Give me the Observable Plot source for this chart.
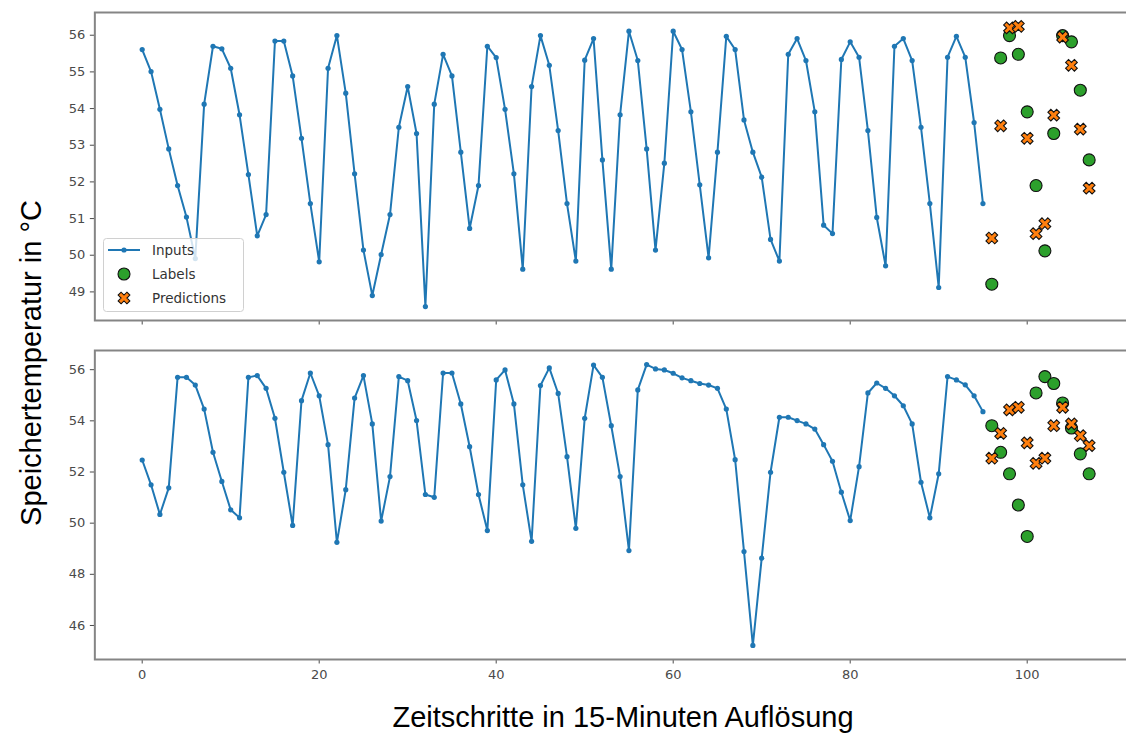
<!DOCTYPE html>
<html>
<head>
<meta charset="utf-8">
<script src="https://cdn.jsdelivr.net/npm/d3@7"></script>
<script src="https://cdn.jsdelivr.net/npm/@observablehq/plot@0.6"></script>
<style>
  body { margin: 0; background: #fff; }
  #fig { position: relative; width: 1126px; height: 733px; overflow: hidden; background: #fff; }
  #top, #bottom, #legend { position: absolute; left: 0; }
  #top { top: 0; width: 1140px; }
  #bottom { top: 340px; width: 1140px; }
  #top svg, #bottom svg { max-width: none !important; }
  #legend { top: 0; pointer-events: none; }
  .ylab { position: absolute; left: 31px; top: 363px; transform: translate(-50%, -50%) rotate(-90deg);
          font-family: "Liberation Sans", Arial, sans-serif; font-size: 29px; white-space: nowrap; color: #000; }
  .xlab { position: absolute; left: 623px; top: 717px; transform: translate(-50%, -50%);
          font-family: "Liberation Sans", Arial, sans-serif; font-size: 29px; white-space: nowrap; color: #000; }
</style>
</head>
<body>
<div id="fig">
  <div id="top"></div>
  <div id="bottom"></div>
  <svg id="legend" width="1126" height="340"></svg>
  <div class="ylab">Speichertemperatur in °C</div>
  <div class="xlab">Zeitschritte in 15-Minuten Auflösung</div>
</div>
<script>
// ---- data ----
const topInputs = [55.61, 55.01, 53.98, 52.90, 51.90, 51.04, 49.91, 54.12, 55.70, 55.63,
  55.10, 53.83, 52.20, 50.53, 51.11, 55.84, 55.84, 54.89, 53.19, 51.41,
  49.82, 55.10, 55.99, 54.42, 52.22, 50.14, 48.90, 50.02, 51.11, 53.49,
  54.60, 53.32, 48.60, 54.12, 55.48, 54.89, 52.81, 50.73, 51.90, 55.70,
  55.39, 53.98, 52.22, 49.62, 54.60, 55.99, 55.18, 53.40, 51.41, 49.84,
  55.32, 55.91, 52.60, 49.62, 53.83, 56.11, 55.31, 52.90, 50.14, 52.51,
  56.11, 55.61, 53.91, 51.92, 49.93, 52.81, 55.97, 55.61, 53.69, 52.81,
  52.13, 50.43, 49.84, 55.48, 55.91, 55.31, 53.91, 50.82, 50.59, 55.34,
  55.82, 55.40, 53.40, 51.03, 49.71, 55.70, 55.91, 55.31, 53.49, 51.41,
  49.12, 55.40, 55.97, 55.40, 53.62, 51.41];
const topLabels = [49.21, 55.38, 55.99, 55.48, 53.91, 51.90, 50.12, 53.32, 55.99, 55.82, 54.50, 52.60];
const topPredictions = [50.47, 53.53, 56.20, 56.24, 53.19, 50.59, 50.86, 53.82, 55.95, 55.18, 53.44, 51.83];

const bottomInputs = [52.47, 51.50, 50.34, 51.38, 55.70, 55.70, 55.40, 54.46, 52.77, 51.63,
  50.52, 50.21, 55.70, 55.77, 55.27, 54.10, 51.99, 49.91, 54.79, 55.87,
  54.98, 53.07, 49.25, 51.31, 54.89, 55.77, 53.88, 50.08, 51.82, 55.73,
  55.57, 54.01, 51.12, 51.01, 55.87, 55.87, 54.66, 52.99, 51.12, 49.71,
  55.60, 55.99, 54.66, 51.50, 49.29, 55.38, 56.07, 55.07, 52.60, 49.80,
  54.10, 56.18, 55.70, 53.81, 51.82, 48.93, 55.21, 56.20, 56.03, 55.99,
  55.86, 55.68, 55.57, 55.46, 55.40, 55.27, 54.46, 52.48, 48.89, 45.22,
  48.63, 51.99, 54.14, 54.14, 54.01, 53.88, 53.68, 53.07, 52.42, 51.21,
  50.10, 52.21, 55.09, 55.48, 55.27, 54.98, 54.59, 53.88, 51.60, 50.21,
  51.93, 55.73, 55.60, 55.41, 54.98, 54.36];
const bottomLabels = [53.81, 52.77, 51.93, 50.71, 49.48, 55.09, 55.73, 55.46, 54.70, 53.72, 52.71, 51.93];
const bottomPredictions = [52.54, 53.51, 54.43, 54.53, 53.14, 52.34, 52.54, 53.81, 54.53, 53.88, 53.42, 53.03];

const xTicks = [0, 20, 40, 60, 80, 100];
const topYTicks = [49, 50, 51, 52, 53, 54, 55, 56];
const bottomYTicks = [46, 48, 50, 52, 54, 56];
const legendEntries = ["Inputs", "Labels", "Predictions"];

// matplotlib-like filled "X" marker
const xFilled = {
  draw(ctx, size) {
    const a = Math.sqrt(size / Math.PI);
    const u = a / 3;
    const pts = [[-u,-3*u],[u,-3*u],[u,-u],[3*u,-u],[3*u,u],[u,u],[u,3*u],[-u,3*u],[-u,u],[-3*u,u],[-3*u,-u],[-u,-u]]
      .map(([x, y]) => [(x - y) / Math.SQRT2, (x + y) / Math.SQRT2]);
    ctx.moveTo(pts[0][0], pts[0][1]);
    for (let k = 1; k < pts.length; k++) ctx.lineTo(pts[k][0], pts[k][1]);
    ctx.closePath();
  }
};

function panel(inputs, labels, preds, yDomain, yTicks, height, mTop, mBottom, showX) {
  const inp = inputs.map((v, i) => ({t: i, v}));
  const lab = labels.map((v, i) => ({t: inputs.length + i, v}));
  const pre = preds.map((v, i) => ({t: inputs.length + i, v}));
  return Plot.plot({
    width: 1140, height,
    marginLeft: 94.35, marginRight: 4, marginTop: mTop, marginBottom: mBottom,
    style: {fontFamily: "DejaVu Sans, sans-serif", fontSize: "13px", color: "#4a4a4a", background: "transparent", maxWidth: "none"},
    x: {domain: [-5.35, 112.35], ticks: xTicks, tickSize: 4.5, tickPadding: 6, label: null,
        tickFormat: showX ? (d => String(d)) : (() => "")},
    y: {domain: yDomain, ticks: yTicks, tickSize: 4.5, tickPadding: 5, label: null},
    marks: [
      Plot.line(inp, {x: "t", y: "v", stroke: "#1f77b4", strokeWidth: 2}),
      Plot.dot(inp, {x: "t", y: "v", r: 2.6, fill: "#1f77b4"}),
      Plot.dot(lab, {x: "t", y: "v", r: 6, fill: "#2ca02c", stroke: "#111", strokeWidth: 1.1}),
      Plot.dot(pre, {x: "t", y: "v", r: 6.2, symbol: xFilled, fill: "#ff7f0e", stroke: "#111", strokeWidth: 1.1}),
      Plot.frame({stroke: "#858585", strokeWidth: 2})
    ]
  });
}

document.getElementById("top").appendChild(
  panel(topInputs, topLabels, topPredictions, [48.22, 56.62], topYTicks, 340, 12, 20, false));
document.getElementById("bottom").appendChild(
  panel(bottomInputs, bottomLabels, bottomPredictions, [44.67, 56.75], bottomYTicks, 360, 10, 41, true));

// legend (inside the top panel, lower left)
const lg = d3.select("#legend");
lg.append("rect").attr("x", 103.5).attr("y", 238.5).attr("width", 140).attr("height", 73).attr("rx", 3)
  .attr("fill", "rgba(255,255,255,0.8)").attr("stroke", "#d0d0d0");
const rows = [250, 274, 298];
lg.append("line").attr("x1", 108).attr("x2", 140).attr("y1", rows[0]).attr("y2", rows[0])
  .attr("stroke", "#1f77b4").attr("stroke-width", 2);
lg.append("circle").attr("cx", 124).attr("cy", rows[0]).attr("r", 2.6).attr("fill", "#1f77b4");
lg.append("circle").attr("cx", 124).attr("cy", rows[1]).attr("r", 6).attr("fill", "#2ca02c")
  .attr("stroke", "#111").attr("stroke-width", 1.1);
const p = d3.path(); xFilled.draw(p, 6.2 * 6.2 * Math.PI);
lg.append("path").attr("transform", `translate(124,${rows[2]})`).attr("d", p.toString())
  .attr("fill", "#ff7f0e").attr("stroke", "#111").attr("stroke-width", 1.1);
legendEntries.forEach((t, k) => {
  lg.append("text").attr("x", 152).attr("y", rows[k]).attr("dy", "0.35em")
    .attr("font-family", "DejaVu Sans, sans-serif").attr("font-size", 13.5).attr("fill", "#333").text(t);
});
</script>
</body>
</html>
